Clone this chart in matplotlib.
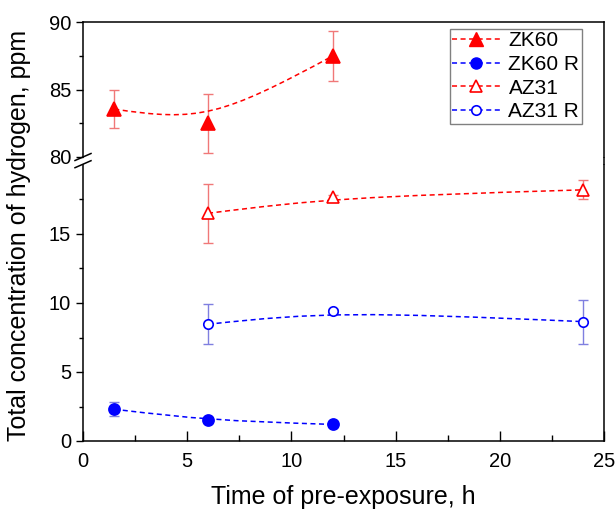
import matplotlib
matplotlib.use("Agg")
import matplotlib.pyplot as plt
from matplotlib.lines import Line2D
from matplotlib.path import Path
from matplotlib.patches import PathPatch

plt.rcParams['font.family'] = ['Liberation Sans', 'DejaVu Sans']

# pre-exposure time, h
zk60_x = [1.5, 6, 12]
zk60_y = [83.55, 82.5, 87.5]
zk60_err = [1.4, 2.2, 1.85]

zk60r_x = [1.5, 6, 12]
zk60r_y = [2.3, 1.5, 1.2]
zk60r_err = [0.5, 0.15, 0.1]

az31_x = [6, 12, 24]
az31_y = [16.5, 17.65, 18.2]
az31_err = [2.15, 0.2, 0.7]

az31r_x = [6, 12, 24]
az31r_y = [8.46, 9.44, 8.65]
az31r_err = [1.45, 0.15, 1.6]

RED = '#ff0000'
BLUE = '#0000ff'
DASH = (0, (3.3, 2.3))


def smooth_path(x, y, k=0.9):
    # Origin-like B-spline connection: passes the end points, middle point pulls the curve
    p0, p1, p2 = list(zip(x, y))
    c1 = (p0[0] + k * (p1[0] - p0[0]), p0[1] + k * (p1[1] - p0[1]))
    c2 = (p2[0] + k * (p1[0] - p2[0]), p2[1] + k * (p1[1] - p2[1]))
    return Path([p0, c1, c2, p2], [Path.MOVETO, Path.CURVE4, Path.CURVE4, Path.CURVE4])


def draw_series(ax, x, y, err, color, ecolor, marker, filled, ms):
    ax.errorbar(x, y, yerr=err, fmt='none', ecolor=ecolor, elinewidth=1.0,
                capsize=3.3, capthick=1.0, zorder=2)
    ax.add_patch(PathPatch(smooth_path(x, y), fill=False, edgecolor=color,
                           lw=1.1, linestyle=DASH, zorder=3))
    ax.plot(x, y, linestyle='none', marker=marker, ms=ms, color=color,
            markerfacecolor=color if filled else 'white', mew=1.2, zorder=4)


fig = plt.figure(figsize=(6.16, 5.09), dpi=100)
L, W = 83 / 616, 521 / 616
ax_top = fig.add_axes([L, 1 - 157 / 509, W, 135 / 509])
ax_bot = fig.add_axes([L, 1 - 441 / 509, W, 276 / 509])

draw_series(ax_top, zk60_x, zk60_y, zk60_err, RED, '#f07878', '^', True, 9.5)
draw_series(ax_bot, zk60r_x, zk60r_y, zk60r_err, BLUE, '#7f7fe0', 'o', True, 8)
draw_series(ax_bot, az31_x, az31_y, az31_err, RED, '#f07878', '^', False, 8.5)
draw_series(ax_bot, az31r_x, az31r_y, az31r_err, BLUE, '#7f7fe0', 'o', False, 6.8)

for ax in (ax_top, ax_bot):
    ax.set_xlim(0, 25)
    for s in ax.spines.values():
        s.set_linewidth(1.1)
    ax.tick_params(axis='y', direction='out', length=5, width=1.0, labelsize=14.5,
                   right=False, pad=3.5)
    ax.tick_params(axis='y', which='minor', direction='out', length=3, width=1.0)

ax_top.set_ylim(80, 90)
ax_top.set_yticks([80, 85, 90])
ax_top.set_yticks([82.5, 87.5], minor=True)
ax_top.spines['bottom'].set_visible(False)
ax_top.tick_params(axis='x', which='both', bottom=False, labelbottom=False)

ax_bot.set_ylim(0, 20)
ax_bot.set_yticks([0, 5, 10, 15])
ax_bot.set_yticks([2.5, 7.5, 12.5, 17.5], minor=True)
ax_bot.set_xticks([0, 5, 10, 15, 20, 25])
ax_bot.set_xticks([2.5, 7.5, 12.5, 17.5, 22.5], minor=True)
ax_bot.spines['top'].set_visible(False)
ax_bot.tick_params(axis='x', direction='in', length=7, width=1.0, labelsize=14.5,
                   top=False, pad=8)
ax_bot.tick_params(axis='x', which='minor', direction='in', length=4, width=1.0)

# right frame runs through the break gap
gap = 8 / 276
ax_bot.plot([1, 1], [1, 1 + gap], transform=ax_bot.transAxes, color='black',
            lw=1.1, clip_on=False, solid_capstyle='butt')

# break marks on the left axis
sx, sy = 8 / 521, 3.5 / 276
for yc in (1 + 0.1 * gap, 1 + 1.0 * gap):
    ax_bot.plot([-sx, sx], [yc - sy, yc + sy], transform=ax_bot.transAxes,
                color='black', lw=1.1, clip_on=False)

handles = [
    Line2D([], [], color=RED, ls=DASH, lw=1.1, marker='^', ms=9.5),
    Line2D([], [], color=BLUE, ls=DASH, lw=1.1, marker='o', ms=8),
    Line2D([], [], color=RED, ls=DASH, lw=1.1, marker='^', ms=8.5,
           markerfacecolor='white', mew=1.2),
    Line2D([], [], color=BLUE, ls=DASH, lw=1.1, marker='o', ms=6.8,
           markerfacecolor='white', mew=1.2),
]
leg = ax_top.legend(handles, ['ZK60', 'ZK60 R', 'AZ31', 'AZ31 R'], loc='upper right',
                    bbox_to_anchor=(1 - 22 / 521, 1 - 7 / 135), borderaxespad=0,
                    fontsize=15, fancybox=False, edgecolor='#808080',
                    handlelength=2.3, handletextpad=0.4, labelspacing=0.22,
                    borderpad=0.12, framealpha=1)
leg.get_frame().set_linewidth(1.0)

fig.text(19 / 616, 1 - 235 / 509, 'Total concentration of hydrogen, ppm', rotation=90,
         ha='center', va='center', fontsize=18)
ax_bot.set_xlabel('Time of pre-exposure, h', fontsize=18, labelpad=10)

fig.savefig('out.png', dpi=100)
